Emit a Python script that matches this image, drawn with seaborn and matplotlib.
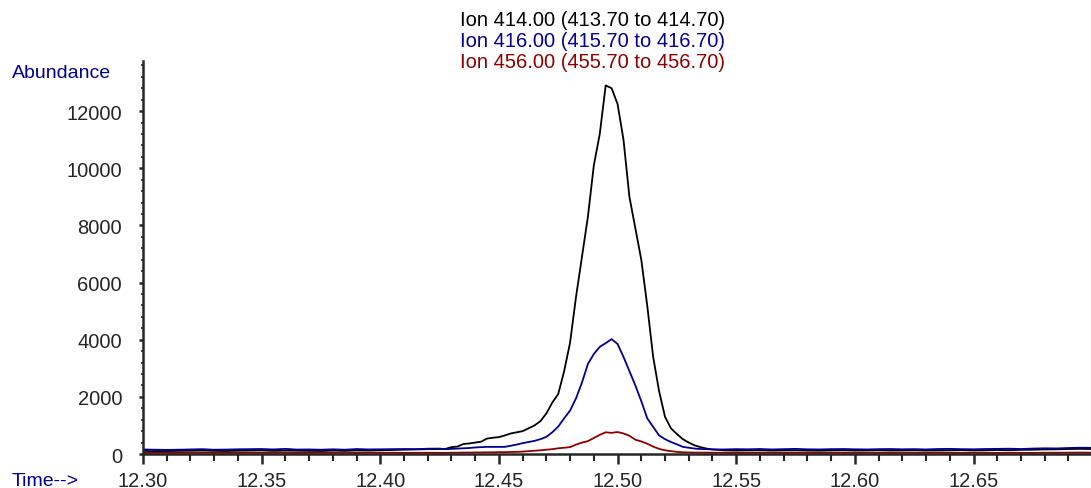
import numpy as np
import pandas as pd
import matplotlib.pyplot as plt
from matplotlib.ticker import MultipleLocator
import seaborn as sns

# retention time (min)
time = [12.300, 12.305, 12.310, 12.315, 12.320, 12.325, 12.330, 12.335, 12.340, 12.345,
        12.350, 12.355, 12.360, 12.365, 12.370, 12.375, 12.380, 12.385, 12.390, 12.395,
        12.400, 12.405, 12.410, 12.415, 12.420, 12.425,
        12.4275, 12.430, 12.4325, 12.435, 12.4375, 12.440, 12.4425, 12.445, 12.4475, 12.450,
        12.4525, 12.455, 12.4575, 12.460, 12.4625, 12.465, 12.4675, 12.470, 12.4725, 12.475,
        12.4775, 12.480, 12.4825, 12.485, 12.4875, 12.490, 12.4925, 12.495, 12.4975, 12.500,
        12.5025, 12.505, 12.5075, 12.510, 12.5125, 12.515, 12.5175, 12.520, 12.5225, 12.525,
        12.5275, 12.530, 12.5325, 12.535, 12.5375, 12.540,
        12.545, 12.550, 12.555, 12.560, 12.565, 12.570, 12.575, 12.580, 12.585, 12.590,
        12.595, 12.600, 12.605, 12.610, 12.615, 12.620, 12.625, 12.630, 12.635, 12.640,
        12.645, 12.650, 12.655, 12.660, 12.665, 12.670, 12.675, 12.680, 12.685, 12.690,
        12.695, 12.700]

ion414 = [110, 100, 105, 110, 115, 120, 110, 105, 115, 120,
          125, 110, 120, 115, 110, 105, 120, 110, 125, 120,
          130, 140, 150, 160, 170, 175,
          180, 240, 260, 350, 370, 400, 430, 540, 570, 590,
          650, 720, 760, 800, 900, 1000, 1150, 1420, 1800, 2100,
          2900, 3900, 5500, 6900, 8300, 10100, 11200, 12900, 12800, 12250,
          11000, 9000, 7900, 6800, 5200, 3400, 2200, 1300, 900, 700,
          520, 400, 300, 240, 190, 160,
          130, 120, 125, 130, 120, 125, 130, 120, 115, 125,
          130, 120, 125, 130, 120, 125, 130, 120, 125, 130,
          135, 125, 130, 140, 135, 145, 150, 160, 165, 175,
          180, 175]

ion416 = [160, 150, 145, 150, 160, 170, 150, 155, 165, 170,
          175, 160, 180, 155, 160, 150, 165, 150, 175, 160,
          165, 170, 175, 170, 185, 190,
          170, 180, 190, 200, 210, 230, 240, 250, 250, 250,
          250, 290, 330, 380, 420, 460, 520, 600, 760, 960,
          1250, 1520, 1950, 2500, 3150, 3500, 3750, 3880, 4020, 3850,
          3400, 2900, 2400, 1850, 1250, 950, 650, 520, 420, 340,
          250, 220, 190, 175, 170, 160,
          160, 170, 165, 175, 160, 170, 180, 165, 160, 170,
          175, 165, 160, 170, 175, 165, 170, 160, 175, 180,
          170, 165, 175, 180, 185, 175, 190, 200, 195, 210,
          220, 215]

ion456 = [40, 38, 42, 40, 45, 42, 40, 38, 42, 45,
          40, 42, 44, 40, 42, 40, 45, 42, 40, 44,
          42, 45, 40, 42, 44, 42,
          40, 45, 45, 50, 50, 55, 55, 60, 60, 65,
          65, 70, 75, 85, 100, 115, 130, 150, 170, 200,
          220, 240, 330, 400, 450, 560, 670, 760, 740, 770,
          720, 640, 500, 440, 360, 260, 180, 130, 100, 75,
          60, 55, 50, 50, 48, 45,
          45, 42, 40, 44, 42, 40, 45, 42, 40, 44,
          42, 40, 45, 42, 40, 44, 42, 40, 45, 42,
          40, 44, 42, 40, 45, 42, 40, 44, 45, 48,
          50, 48]

labels = ["Ion 414.00 (413.70 to 414.70)",
          "Ion 416.00 (415.70 to 416.70)",
          "Ion 456.00 (455.70 to 456.70)"]
colors = ["#000000", "#000090", "#8c0000"]

df = pd.concat([
    pd.DataFrame({"time": time, "abundance": ion414, "ion": labels[0]}),
    pd.DataFrame({"time": time, "abundance": ion416, "ion": labels[1]}),
    pd.DataFrame({"time": time, "abundance": ion456, "ion": labels[2]}),
])

sns.set_style("ticks")
plt.rcParams["font.family"] = ["Liberation Sans", "DejaVu Sans"]

fig = plt.figure(figsize=(10.91, 4.89), dpi=100)
ax = fig.add_axes([0.131, 0.0695, 0.869, 0.8035])
sns.lineplot(data=df, x="time", y="abundance", hue="ion", palette=dict(zip(labels, colors)),
             linewidth=1.3, legend=False, ax=ax)

ax.set_xlim(12.30, 12.6995)
ax.set_ylim(0, 13750)
ax.xaxis.set_major_locator(MultipleLocator(0.05))
ax.xaxis.set_minor_locator(MultipleLocator(0.01))
ax.yaxis.set_major_locator(MultipleLocator(2000))
ax.yaxis.set_minor_locator(MultipleLocator(400))
ax.xaxis.set_major_formatter(plt.FuncFormatter(lambda v, p: f"{v:.2f}"))
ax.set_xlabel("")
ax.set_ylabel("")
for s in ["top", "right"]:
    ax.spines[s].set_visible(False)
for s in ["left", "bottom"]:
    ax.spines[s].set_linewidth(1.8)
ax.tick_params(axis="x", which="major", length=7, width=1.8, pad=5, labelsize=14.5)
ax.tick_params(axis="x", which="minor", length=5, width=1.5)
ax.tick_params(axis="y", which="major", length=3, width=1.8, pad=12, labelsize=14.5)
ax.tick_params(axis="y", which="minor", length=1.5, width=1.2)

fig.text(0.011, 0.849, "Abundance", color="#000090", fontsize=14, va="center", ha="left")
fig.text(0.011, 0.016, "Time-->", color="#000090", fontsize=14, va="center", ha="left")
for i, (lab, c) in enumerate(zip(labels, colors)):
    fig.text(0.543, 0.958 - i * 0.043, lab, color=c, fontsize=14.5, ha="center", va="center")

fig.savefig("out.png", dpi=100)
